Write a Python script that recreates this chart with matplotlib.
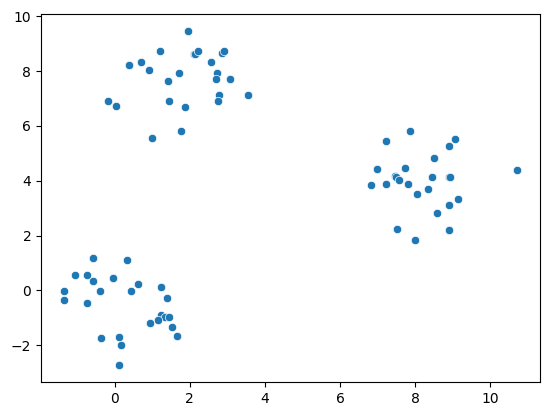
import numpy as np
import matplotlib
matplotlib.use("Agg")
import matplotlib.pyplot as plt
import seaborn as sns

# cluster around the origin
x1 = [-0.57, 0.32, -1.05, -0.73, -0.57, -0.04, 0.62, -1.36, -0.39, 0.44, 1.23,
      -1.36, -0.73, 1.39, 1.23, 1.33, 1.44, 1.15, 0.94, 1.52, 1.66, -0.36,
      0.12, 0.17, 0.12]
y1 = [1.19, 1.12, 0.57, 0.57, 0.35, 0.46, 0.24, -0.01, -0.01, -0.01, 0.13,
      -0.37, -0.48, -0.27, -0.91, -0.98, -0.96, -1.07, -1.21, -1.36, -1.68, -1.76,
      -1.72, -2.01, -2.74]

# upper cluster
x2 = [1.95, 1.20, 2.11, 2.15, 2.23, 2.85, 2.91, 0.71, 0.39, 0.91, 2.56, 2.72,
      2.69, 3.06, 1.70, 1.41, -0.19, 0.02, 1.44, 1.86, 2.77, 2.75, 3.55, 1.76, 0.99]
y2 = [9.48, 8.75, 8.64, 8.64, 8.75, 8.68, 8.75, 8.32, 8.21, 8.03, 8.32, 7.95,
      7.73, 7.70, 7.92, 7.63, 6.93, 6.72, 6.93, 6.68, 7.12, 6.90, 7.15, 5.81, 5.55]

# right cluster
x3 = [7.87, 7.23, 9.07, 8.89, 8.49, 6.99, 7.72, 10.72, 7.47, 7.50, 7.58, 8.44,
      8.89, 8.93, 6.83, 7.23, 7.80, 8.33, 8.05, 9.15, 8.91, 8.57, 7.52, 8.89, 8.00]
y3 = [5.81, 5.44, 5.52, 5.26, 4.83, 4.43, 4.46, 4.39, 4.17, 4.13, 4.03, 4.13,
      4.13, 4.15, 3.84, 3.88, 3.88, 3.70, 3.52, 3.33, 3.12, 2.83, 2.24, 2.21, 1.84]

x = np.array(x1 + x2 + x3)
y = np.array(y1 + y2 + y3)

fig = plt.figure(figsize=(5.46, 4.16), dpi=100)
ax = fig.add_axes([41 / 546, 1 - 382 / 416, 499 / 546, 368 / 416])
sns.scatterplot(x=x, y=y, ax=ax)

fig.savefig("out.png", dpi=100)
